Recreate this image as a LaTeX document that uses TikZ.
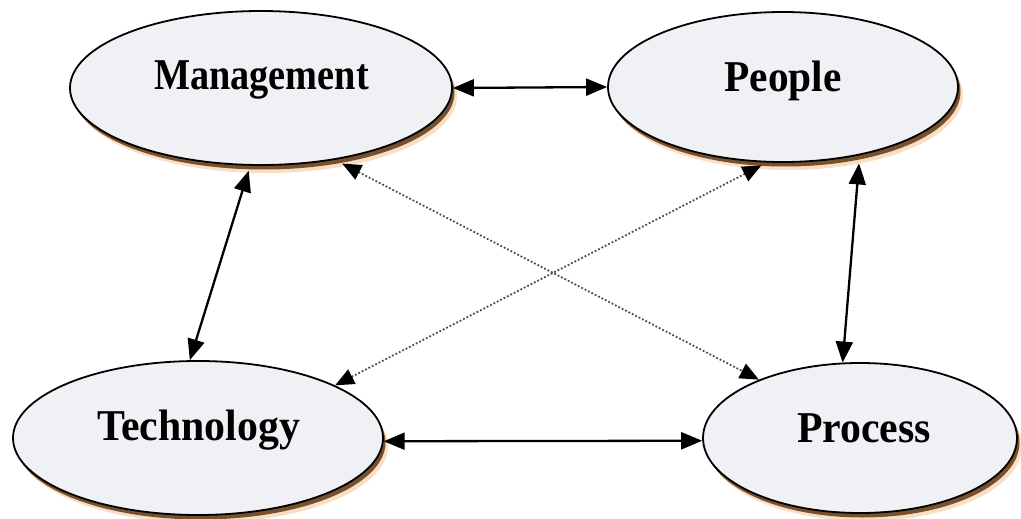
\documentclass[tikz,border=0pt]{standalone}
\usepackage{fontspec}
\setmainfont{Liberation Serif}
\usepackage{graphicx}
\usetikzlibrary{shapes.geometric,arrows.meta,shadows}
\definecolor{fillgray}{RGB}{239,241,245}
\definecolor{shadowbrown}{RGB}{120,80,45}
\definecolor{shadowglow}{RGB}{240,190,140}
\tikzset{
  ent/.style={ellipse, draw=black, line width=1.8pt, fill=fillgray, inner sep=0pt,
    general shadow={fill=shadowglow, opacity=0.5, shadow xshift=5pt, shadow yshift=-8pt},
    general shadow={fill=shadowbrown, shadow xshift=2.5pt, shadow yshift=-4.5pt}},
  lbl/.style={anchor=base, font=\bfseries\fontsize{44}{50}\selectfont, inner sep=0pt},
  solidlink/.style={line width=2.3pt, draw=black, {Triangle[length=21pt,width=17pt]}-{Triangle[length=21pt,width=17pt]}},
  dotlink/.style={line width=1.8pt, draw=black!70, dotted, {Triangle[length=19pt,width=16pt,fill=black,color=black]}-{Triangle[length=19pt,width=16pt,fill=black,color=black]}}
}
\begin{document}
\begin{tikzpicture}[x=1pt,y=-1pt]
\useasboundingbox (0,0) rectangle (1021,519);
% ellipses
\node[ent, minimum width=382pt, minimum height=154pt] (m) at (261,88) {};
\node[ent, minimum width=350pt, minimum height=150pt] (p) at (783,87) {};
\node[ent, minimum width=370pt, minimum height=154pt] (t) at (198,438) {};
\node[ent, minimum width=314pt, minimum height=150pt] (r) at (860,438) {};
% labels
\node[lbl] (lm) at (261.5,90) {\scalebox{0.87}[1]{Management}};
\node[lbl] (lp) at (783,92) {\scalebox{0.94}[1]{People}};
\node[lbl] (lt) at (198.5,440) {\scalebox{0.95}[1]{Technology}};
\node[lbl] (lr) at (864,442) {\scalebox{0.95}[1]{Process}};
% solid connectors
\draw[solidlink] (m.east) -- (p.west);
\draw[solidlink] ([yshift=-5pt]m.261) -- (t.96);
\draw[solidlink] ([yshift=-8pt]p.-42) -- (r.103);
\draw[solidlink] (t.-1.6) -- (r.181.8);
% dotted connectors
\draw[dotlink] ([yshift=-5pt]m.-41.6) -- (r.150);
\draw[dotlink] ([yshift=-3pt]p.254) -- (t.21);
\end{tikzpicture}
\end{document}
